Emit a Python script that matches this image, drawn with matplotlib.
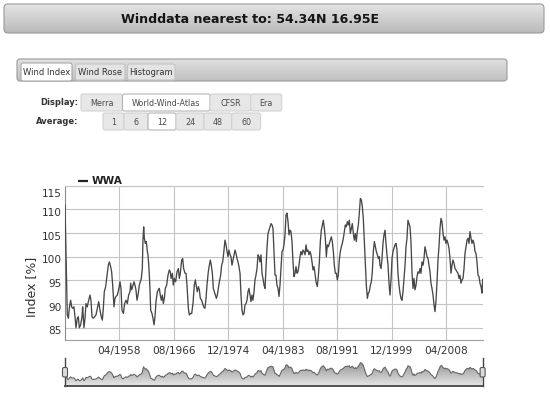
import numpy as np
import matplotlib
matplotlib.use('Agg')
import matplotlib.pyplot as plt
from matplotlib.patches import FancyBboxPatch
from matplotlib.colors import LinearSegmentedColormap
from matplotlib.transforms import ScaledTranslation

# WWA wind index, 12 month average
years = [
    1949.95, 1950.10, 1950.30, 1950.46, 1950.61, 1950.81, 1950.97, 1951.12, 1951.32, 1951.48,
    1951.63, 1951.83, 1951.99, 1952.14, 1952.34, 1952.55, 1952.65, 1952.85, 1953.01, 1953.16,
    1953.36, 1953.52, 1953.77, 1953.92, 1954.08, 1954.28, 1954.48, 1954.69, 1954.89, 1955.10,
    1955.30, 1955.50, 1955.66, 1955.81, 1955.96, 1956.17, 1956.32, 1956.57, 1956.73, 1956.93,
    1957.08, 1957.24, 1957.44, 1957.59, 1957.75, 1957.95, 1958.15, 1958.36, 1958.51, 1958.66,
    1958.87, 1959.07, 1959.28, 1959.48, 1959.68, 1959.89, 1959.99, 1960.14, 1960.29, 1960.50,
    1960.65, 1960.80, 1960.96, 1961.16, 1961.31, 1961.47, 1961.62, 1961.77, 1961.87, 1961.98,
    1962.08, 1962.23, 1962.38, 1962.54, 1962.64, 1962.79, 1962.94, 1963.05, 1963.25, 1963.40,
    1963.56, 1963.71, 1963.86, 1964.07, 1964.22, 1964.37, 1964.52, 1964.68, 1964.83, 1964.98,
    1965.14, 1965.29, 1965.49, 1965.70, 1965.90,
    1966.05, 1966.16, 1966.36, 1966.51, 1966.66, 1966.87, 1967.07, 1967.28, 1967.43, 1967.58,
    1967.79, 1967.94, 1968.09, 1968.30, 1968.45, 1968.60, 1968.81, 1968.96, 1969.11, 1969.32,
    1969.52, 1969.72, 1969.88, 1970.03, 1970.18, 1970.34, 1970.49, 1970.64, 1970.84, 1971.00,
    1971.15, 1971.35, 1971.51, 1971.66, 1971.86, 1972.02, 1972.17, 1972.32, 1972.48, 1972.63,
    1972.78, 1972.93, 1973.09, 1973.24, 1973.39, 1973.55, 1973.75, 1973.90, 1974.06, 1974.21,
    1974.41, 1974.57, 1974.72, 1974.87, 1975.02, 1975.18, 1975.33, 1975.48, 1975.64, 1975.79,
    1975.94, 1976.09, 1976.25, 1976.40, 1976.55, 1976.71, 1976.86, 1977.01, 1977.17, 1977.32,
    1977.47, 1977.62, 1977.78, 1977.93, 1978.08, 1978.24, 1978.39, 1978.54, 1978.69, 1978.85,
    1979.00, 1979.15, 1979.31, 1979.46, 1979.61, 1979.76, 1979.92, 1980.07, 1980.22, 1980.38,
    1980.53, 1980.68, 1980.83, 1980.99, 1981.14, 1981.29, 1981.45, 1981.60, 1981.75, 1981.90,
    1982.06,
    1982.21, 1982.36, 1982.52, 1982.67, 1982.82, 1982.97, 1983.13, 1983.28, 1983.43, 1983.59,
    1983.74, 1983.89, 1984.05, 1984.20, 1984.35, 1984.50, 1984.66, 1984.81, 1984.96, 1985.12,
    1985.27, 1985.42, 1985.57, 1985.73, 1985.88, 1986.03, 1986.19, 1986.34, 1986.49, 1986.65,
    1986.80, 1986.95, 1987.10, 1987.26, 1987.41, 1987.56, 1987.72, 1987.87, 1988.02, 1988.17,
    1988.33, 1988.53, 1988.68, 1988.84, 1988.99, 1989.14, 1989.30, 1989.45, 1989.60, 1989.75,
    1989.91, 1990.06, 1990.21, 1990.37, 1990.52, 1990.67, 1990.82, 1990.98, 1991.13, 1991.28,
    1991.44, 1991.59, 1991.74, 1991.89, 1992.05, 1992.20, 1992.35, 1992.51, 1992.66, 1992.81,
    1992.96, 1993.12, 1993.27, 1993.42, 1993.58, 1993.73, 1993.88, 1994.04, 1994.19, 1994.34,
    1994.49, 1994.65, 1994.80, 1994.95, 1995.11, 1995.26, 1995.41, 1995.56, 1995.72, 1995.87,
    1996.02, 1996.18, 1996.33, 1996.48, 1996.64, 1996.79, 1996.94, 1997.09, 1997.25, 1997.40,
    1997.55, 1997.71, 1997.86, 1998.01, 1998.11,
    1998.27, 1998.42, 1998.57, 1998.72, 1998.88, 1999.03, 1999.18, 1999.34, 1999.49, 1999.64,
    1999.81, 1999.95, 2000.10, 2000.25, 2000.41, 2000.56, 2000.71, 2000.86, 2001.02, 2001.17,
    2001.32, 2001.48, 2001.63, 2001.78, 2001.94, 2002.09, 2002.24, 2002.39, 2002.55, 2002.70,
    2002.85, 2003.01, 2003.16, 2003.31, 2003.46, 2003.62, 2003.77, 2003.92, 2004.08, 2004.23,
    2004.38, 2004.53, 2004.69, 2004.84, 2004.99, 2005.15, 2005.30, 2005.45, 2005.60, 2005.76,
    2005.91, 2006.06, 2006.22, 2006.37, 2006.52, 2006.68, 2006.83, 2006.98, 2007.13, 2007.29,
    2007.44, 2007.59, 2007.75, 2007.90, 2008.05, 2008.20, 2008.36, 2008.51, 2008.66, 2008.82,
    2008.97, 2009.12, 2009.27, 2009.43, 2009.58, 2009.73, 2009.89, 2010.04, 2010.19, 2010.34,
    2010.50, 2010.65, 2010.80, 2010.96, 2011.11, 2011.26, 2011.42, 2011.57, 2011.72, 2011.87,
    2012.03, 2012.18, 2012.33, 2012.49, 2012.64, 2012.79, 2012.94, 2013.10, 2013.25, 2013.40,
    2013.56, 2013.71, 2013.81,
]
wwa = [
    110.9, 101.1, 87.7, 87.0, 89.1, 90.8, 89.4, 89.1, 89.4, 87.3,
    85.0, 87.0, 87.3, 85.0, 85.6, 87.3, 89.4, 85.0, 87.0, 90.1,
    89.4, 90.5, 91.9, 90.8, 87.3, 87.0, 87.3, 87.7, 89.1, 90.5,
    88.7, 87.3, 86.6, 89.1, 92.6, 93.7, 95.4, 98.2, 98.9, 97.9,
    96.8, 94.0, 89.4, 91.2, 91.6, 91.9, 93.0, 94.7, 93.3, 88.7,
    88.0, 90.1, 90.8, 90.1, 91.9, 92.6, 94.4, 93.0, 93.7, 94.7,
    94.0, 93.0, 90.8, 92.3, 94.0, 94.7, 95.4, 97.5, 103.5, 106.3,
    103.9, 102.8, 103.2, 101.1, 100.4, 97.5, 93.3, 88.7, 88.0, 87.0,
    85.6, 87.3, 90.5, 92.6, 93.0, 93.3, 91.9, 90.8, 91.9, 90.1,
    91.2, 93.3, 94.0, 96.1, 97.2,
    96.8, 95.4, 96.5, 94.0, 95.4, 94.7, 96.8, 97.5, 95.4, 96.5,
    99.3, 99.6, 97.5, 96.5, 96.5, 94.0, 89.1, 87.7, 88.0, 88.0,
    90.1, 94.0, 95.1, 93.7, 92.6, 93.7, 93.0, 91.2, 90.8, 90.1,
    89.4, 89.1, 91.2, 94.0, 96.8, 98.2, 99.3, 98.2, 96.5, 93.3,
    92.6, 91.9, 91.2, 91.9, 93.3, 94.7, 96.1, 98.2, 98.9, 100.7,
    103.5, 102.5, 101.1, 100.0, 101.4, 100.4, 100.0, 98.2, 99.3, 100.4,
    101.4, 100.7, 99.6, 98.9, 97.9, 96.5, 91.9, 88.7, 87.7, 88.0,
    89.8, 90.1, 90.8, 92.6, 93.3, 91.9, 90.5, 91.9, 90.8, 92.6,
    95.1, 96.1, 97.5, 100.4, 100.0, 98.9, 100.4, 96.5, 95.4, 94.0,
    93.3, 97.5, 101.8, 104.9, 105.6, 106.3, 107.0, 106.7, 106.0, 101.1,
    96.1,
    96.1, 94.0, 93.3, 91.6, 94.0, 97.5, 101.1, 101.4, 102.5, 104.6,
    108.8, 109.2, 107.4, 104.6, 105.6, 105.3, 103.2, 98.9, 95.8, 96.5,
    97.9, 96.5, 96.8, 98.2, 100.0, 101.1, 100.4, 101.4, 101.1, 100.4,
    102.5, 101.1, 101.4, 100.4, 101.1, 100.4, 98.9, 97.2, 97.9, 96.5,
    94.7, 93.7, 95.8, 98.9, 103.2, 105.6, 106.7, 107.7, 106.0, 103.9,
    100.0, 102.5, 102.1, 102.8, 103.5, 104.2, 103.2, 101.1, 98.2, 96.5,
    96.5, 95.1, 96.1, 99.3, 101.1, 102.1, 102.8, 103.9, 105.3, 106.7,
    106.3, 107.4, 106.7, 107.7, 104.9, 106.0, 107.0, 104.9, 103.5, 104.9,
    103.2, 105.3, 106.7, 109.2, 112.3, 112.0, 110.6, 108.1, 103.2, 98.9,
    94.0, 91.2, 92.3, 92.6, 94.0, 94.7, 96.8, 101.1, 103.2, 102.1,
    101.1, 100.4, 99.6, 100.0, 98.2,
    97.5, 99.6, 102.8, 104.6, 105.6, 102.8, 100.4, 98.2, 94.4, 91.9,
    95.4, 99.6, 101.1, 101.8, 102.5, 102.8, 101.4, 96.5, 94.0, 92.3,
    91.2, 90.8, 92.6, 95.4, 98.2, 102.1, 103.9, 107.7, 107.0, 106.3,
    103.2, 96.5, 93.3, 95.4, 93.0, 94.0, 95.8, 96.8, 96.5, 97.5,
    96.5, 98.9, 98.2, 99.6, 102.1, 101.1, 100.0, 99.6, 98.2, 96.8,
    94.4, 93.3, 91.9, 89.8, 88.4, 90.8, 94.7, 99.3, 102.1, 106.0,
    108.1, 107.4, 104.9, 103.5, 104.2, 102.8, 103.5, 102.8, 101.8, 99.6,
    96.5, 98.2, 99.3, 98.6, 97.5, 97.2, 96.8, 96.5, 95.4, 96.1,
    94.4, 95.1, 95.4, 97.5, 100.7, 102.1, 103.5, 103.9, 102.8, 105.3,
    103.9, 102.8, 103.5, 102.8, 101.1, 100.7, 98.9, 96.1, 95.8, 94.4,
    93.7, 92.3, 95.2,
]

x_ticks = [1958.25, 1966.583, 1974.917, 1983.25, 1991.583, 1999.917, 2008.25]
x_labels = ['04/1958', '08/1966', '12/1974', '04/1983', '08/1991', '12/1999', '04/2008']
y_ticks = [85, 90, 95, 100, 105, 110, 115]

title = 'Winddata nearest to: 54.34N 16.95E'
tabs = ['Wind Index', 'Wind Rose', 'Histogram']
display_opts = ['Merra', 'World-Wind-Atlas', 'CFSR', 'Era']
average_opts = ['1', '6', '12', '24', '48', '60']

W, H = 550, 394
fig = plt.figure(figsize=(W / 100, H / 100), dpi=100)
fig.patch.set_facecolor('white')


def rect(x0, y0, x1, y1):
    # pixel box, origin top left -> add_axes rect
    return [x0 / W, 1 - y1 / H, (x1 - x0) / W, (y1 - y0) / H]


def overlay():
    a = fig.add_axes([0, 0, 1, 1])
    a.set_xlim(0, W)
    a.set_ylim(H, 0)
    a.axis('off')
    return a


def gradient_box(a, x0, y0, x1, y1, top, bottom, edge, rad=3, lw=0.8):
    box = FancyBboxPatch((x0, y0), x1 - x0, y1 - y0,
                         boxstyle='round,pad=0,rounding_size=%g' % rad,
                         fc='none', ec=edge, lw=lw, zorder=3)
    a.add_patch(box)
    cmap = LinearSegmentedColormap.from_list('g', [top, bottom])
    im = a.imshow(np.linspace(0, 1, 64)[:, None], cmap=cmap, aspect='auto',
                  extent=(x0, x1, y1, y0), origin='upper', zorder=2)
    im.set_clip_path(box)
    a.set_xlim(0, W)
    a.set_ylim(H, 0)


def button(a, x0, y0, x1, y1, label, active):
    fc = 'white' if active else '#e7e7e7'
    ec = '#b4b4b4' if active else '#d2d2d2'
    a.add_patch(FancyBboxPatch((x0, y0), x1 - x0, y1 - y0,
                               boxstyle='round,pad=0,rounding_size=2',
                               fc=fc, ec=ec, lw=0.8, zorder=3))
    a.text((x0 + x1) / 2, (y0 + y1) / 2 + 0.5, label, ha='center', va='center',
           fontsize=5.8, color='#4a4a4a', zorder=4)


ui = overlay()

# header bar
gradient_box(ui, 4, 4, 544, 33, '#e4e4e4', '#bababa', '#9a9a9a', rad=4)
ui.text(250, 19, title, ha='center', va='center', fontsize=9.1,
        fontweight='bold', color='#151515', zorder=5)

# tab strip
gradient_box(ui, 17, 59, 507, 81, '#e0e0e0', '#c0c0c0', '#9a9a9a', rad=3)
tab_x = [(21, 72), (75.5, 125), (127.5, 175)]
for i, (name, (a0, a1)) in enumerate(zip(tabs, tab_x)):
    active = i == 0
    ui.add_patch(FancyBboxPatch((a0, 63 if active else 64), a1 - a0, 18 if active else 16,
                                boxstyle='round,pad=0,rounding_size=2',
                                fc='white' if active else '#e4e4e4',
                                ec='#a8a8a8' if active else '#c4c4c4', lw=0.8, zorder=4))
    ui.text((a0 + a1) / 2, 72, name, ha='center', va='center', fontsize=6,
            color='#333333', zorder=5)

# option rows
ui.text(78, 102.5, 'Display:', ha='right', va='center', fontsize=6,
        fontweight='bold', color='#333333')
disp_x = [81, 122.5, 210, 250.7, 281.7]
for i, name in enumerate(display_opts):
    button(ui, disp_x[i], 94, disp_x[i + 1], 111, name, name == 'World-Wind-Atlas')

ui.text(78, 121.5, 'Average:', ha='right', va='center', fontsize=6,
        fontweight='bold', color='#333333')
avg_x = [103, 124, 148, 176, 204, 231.7, 260.6]
for i, name in enumerate(average_opts):
    button(ui, avg_x[i], 113, avg_x[i + 1], 130, name, name == '12')

# legend and y label
ui.plot([78, 88], [181, 181], color='#222222', lw=1.6, solid_capstyle='butt')
ui.text(91.5, 181, 'WWA', ha='left', va='center', fontsize=7.6,
        fontweight='bold', color='#222222')
ui.text(32, 287, 'Index [%]', rotation=90, ha='center', va='center',
        fontsize=9, color='#333333')

# main chart
ax = fig.add_axes(rect(65, 185.7, 482.6, 340))
ax.set_facecolor('none')
ax.plot(years, wwa, color='#474747', lw=0.95, zorder=3)
ax.set_xlim(1949.95, 2013.8)
ax.set_ylim(82.4, 115)
ax.set_xticks(x_ticks, x_labels)
ax.set_yticks(y_ticks)
ax.grid(color='#c4c4c4', lw=0.8)
ax.tick_params(length=0, labelsize=7.6, labelcolor='#333333')
ax.tick_params(axis='x', pad=4)
ax.tick_params(axis='y', pad=2.5)
for lbl in ax.get_yticklabels():
    dy = -7 if lbl.get_text() == '115' else -2.5
    lbl.set_transform(lbl.get_transform() + ScaledTranslation(0, dy / 100, fig.dpi_scale_trans))
ax.spines['right'].set_visible(False)
ax.spines['top'].set_color('#c4c4c4')
ax.spines['top'].set_linewidth(0.8)
ax.spines['left'].set_color('#8a8a8a')
ax.spines['bottom'].set_color('#a0a0a0')

# navigator
nav = fig.add_axes(rect(65, 359, 482.6, 386))
nav.set_facecolor('none')
nav.set_xlim(1949.95, 2013.8)
nav.set_ylim(77, 118)
area = nav.fill_between(years, wwa, 77, color='none', lw=0)
cmap = LinearSegmentedColormap.from_list('nav', ['#8a8a8a', '#e6e6e6'])
im = nav.imshow(np.linspace(0, 1, 64)[:, None], cmap=cmap, aspect='auto',
                extent=(1949.95, 2013.8, 77, 118), origin='upper')
im.set_clip_path(area.get_paths()[0], area.get_transform())
nav.set_xlim(1949.95, 2013.8)
nav.set_ylim(77, 118)
nav.plot(years, wwa, color='#666666', lw=0.8)
nav.set_xticks([])
nav.set_yticks([])
for s in ['top', 'left', 'right']:
    nav.spines[s].set_visible(False)
nav.spines['bottom'].set_color('#444444')
nav.spines['bottom'].set_linewidth(1.3)

top = overlay()
for hx in (65, 482.6):
    top.plot([hx, hx], [358, 386], color='#444444', lw=1)
    top.add_patch(FancyBboxPatch((hx - 2.5, 367.5), 5, 9.5,
                                 boxstyle='round,pad=0,rounding_size=1.5',
                                 fc='#dcdcdc', ec='#555555', lw=0.8, zorder=5))

fig.savefig('out.png', dpi=100)
